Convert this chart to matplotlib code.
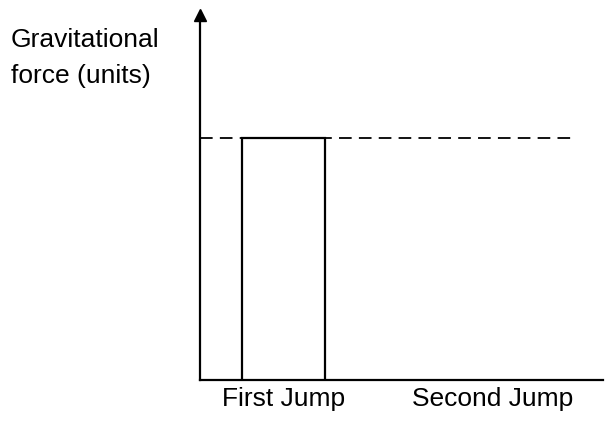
import matplotlib
matplotlib.use("Agg")
from matplotlib import pyplot as plt

# categories and force readings (second jump left blank)
jumps = ["First Jump", "Second Jump"]
forces = [1.0, 0.0]
weight_level = 1.0

plt.rcParams['font.family'] = ['Liberation Sans', 'DejaVu Sans']

W, H = 606, 423
fig = plt.figure(figsize=(W / 100, H / 100), dpi=100)
# axes box in pixel units: left, bottom, right, top
left, bottom, right, top = 200, 380, 603, 15
ax = fig.add_axes([left / W, 1 - bottom / H, (right - left) / W, (bottom - top) / H])

positions = list(range(len(jumps)))
ax.bar(positions[0], forces[0], width=0.40, facecolor="white",
       edgecolor="black", linewidth=1.6, zorder=3)
ax.set_xlim(-0.40, 1.53)
ax.set_ylim(0, 1.508)

# dashed reference line at the weight level
ax.axhline(weight_level, xmin=0, xmax=0.93, color="black", linewidth=1.3,
           linestyle=(0, (7, 4)), zorder=2)

for side in ("top", "right"):
    ax.spines[side].set_visible(False)
for side in ("left", "bottom"):
    ax.spines[side].set_linewidth(1.6)

# arrow head on the y axis
ax.plot(0, 1, marker="^", color="black", markersize=8, transform=ax.transAxes,
        clip_on=False)

ax.set_xticks(positions)
ax.set_xticklabels(jumps, fontsize=19)
ax.tick_params(axis="x", length=0, pad=5)
ax.set_yticks([])

fig.text(11 / W, 1 - 47 / H, "Gravitational", fontsize=19,
         va="baseline", ha="left")
fig.text(11 / W, 1 - 83 / H, "force (units)", fontsize=19,
         va="baseline", ha="left")

fig.savefig("out.png", dpi=100, facecolor="white")
